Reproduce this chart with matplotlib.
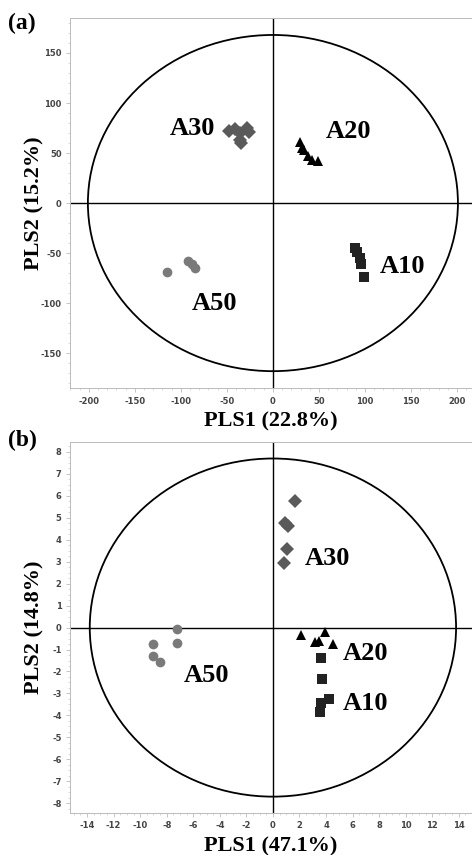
import matplotlib
matplotlib.use("Agg")
import matplotlib.pyplot as plt
from matplotlib.patches import Ellipse
from matplotlib.ticker import MultipleLocator

plt.rcParams["font.family"] = ["Liberation Serif", "DejaVu Serif"]
plt.rcParams["axes.unicode_minus"] = False

# panel (a) scores
a10_x = [89, 91, 95, 96, 99]
a10_y = [-45, -49, -55, -61, -74]
a20_x = [29, 32, 34, 38, 43, 49]
a20_y = [61, 55, 53, 47, 43, 42]
a30_x = [-48, -41, -36, -28, -26, -36, -35]
a30_y = [72, 74, 70, 75, 71, 63, 60]
a50_x = [-115, -92, -88, -85]
a50_y = [-69, -58, -61, -65]

# panel (b) scores
b10_x = [3.65, 3.7, 4.2, 3.6, 3.55]
b10_y = [-1.4, -2.36, -3.27, -3.43, -3.86]
b20_x = [2.1, 3.9, 3.15, 3.5, 4.5]
b20_y = [-0.32, -0.18, -0.64, -0.6, -0.73]
b30_x = [1.65, 0.9, 1.13, 1.05, 0.83]
b30_y = [5.77, 4.77, 4.64, 3.6, 2.95]
b50_x = [-7.2, -9.0, -7.2, -9.0, -8.5]
b50_y = [-0.05, -0.77, -0.7, -1.3, -1.55]

panels = [
    dict(pos=[0.148, 0.546, 0.852, 0.433], xlim=(-220.6, 216.3), ylim=(-185, 185),
         xmaj=50, xmin=10, ymaj=50, ymin=10, rx=201, ry=168,
         xlab="PLS1 (22.8%)", ylab="PLS2 (15.2%)", tag="(a)", tag_y=0.985,
         pts=[(a30_x, a30_y), (a20_x, a20_y), (a10_x, a10_y), (a50_x, a50_y)],
         labels=[(-87, 75, "A30"), (82, 72, "A20"), (141, -63, "A10"), (-63, -100, "A50")]),
    dict(pos=[0.148, 0.049, 0.852, 0.434], xlim=(-15.3, 15.0), ylim=(-8.45, 8.45),
         xmaj=2, xmin=0.5, ymaj=1, ymin=0.25, rx=13.8, ry=7.7,
         xlab="PLS1 (47.1%)", ylab="PLS2 (14.8%)", tag="(b)", tag_y=1.003,
         pts=[(b30_x, b30_y), (b20_x, b20_y), (b10_x, b10_y), (b50_x, b50_y)],
         labels=[(4.1, 3.15, "A30"), (7.0, -1.2, "A20"), (7.0, -3.45, "A10"), (-5.0, -2.2, "A50")]),
]

styles = [
    dict(marker="D", color="#5a5a5a", ms=7),
    dict(marker="^", color="#000000", ms=7.5),
    dict(marker="s", color="#222222", ms=6.5),
    dict(marker="o", color="#7a7a7a", ms=7),
]

fig = plt.figure(figsize=(4.72, 8.55), dpi=100)

for p in panels:
    ax = fig.add_axes(p["pos"])
    ax.set_xlim(*p["xlim"])
    ax.set_ylim(*p["ylim"])
    for (xs, ys), st in zip(p["pts"], styles):
        ax.plot(xs, ys, linestyle="none", marker=st["marker"], color=st["color"],
                markersize=st["ms"], markeredgewidth=0, zorder=3)
    ax.add_patch(Ellipse((0, 0), 2 * p["rx"], 2 * p["ry"], fill=False,
                         edgecolor="black", linewidth=1.3, zorder=2))
    ax.axhline(0, color="black", linewidth=1.0, zorder=1)
    ax.axvline(0, color="black", linewidth=1.0, zorder=1)
    for x, y, s in p["labels"]:
        ax.text(x, y, s, ha="center", va="center", fontsize=19,
                fontweight="bold", zorder=4)

    ax.xaxis.set_major_locator(MultipleLocator(p["xmaj"]))
    ax.xaxis.set_minor_locator(MultipleLocator(p["xmin"]))
    ax.yaxis.set_major_locator(MultipleLocator(p["ymaj"]))
    ax.yaxis.set_minor_locator(MultipleLocator(p["ymin"]))
    ax.tick_params(which="both", direction="out", color="#bbbbbb",
                   labelcolor="#444444", labelsize=6)
    ax.tick_params(which="major", length=3, width=0.6, pad=3)
    ax.tick_params(which="minor", length=1.5, width=0.4)
    for lab in ax.get_xticklabels() + ax.get_yticklabels():
        lab.set_family("DejaVu Sans")
        lab.set_fontweight("bold")
    for side in ["top", "left", "bottom"]:
        ax.spines[side].set_color("#bbbbbb")
        ax.spines[side].set_linewidth(0.7)
    ax.spines["right"].set_visible(False)

    ax.set_xlabel(p["xlab"], fontsize=16, fontweight="bold", labelpad=4)
    ax.set_ylabel(p["ylab"], fontsize=16, fontweight="bold")
    ax.yaxis.set_label_coords(-0.062, 0.5)
    ax.text(-0.155, p["tag_y"], p["tag"], transform=ax.transAxes, ha="left",
            va="center", fontsize=17, fontweight="bold")

fig.savefig("out.png", dpi=100)
